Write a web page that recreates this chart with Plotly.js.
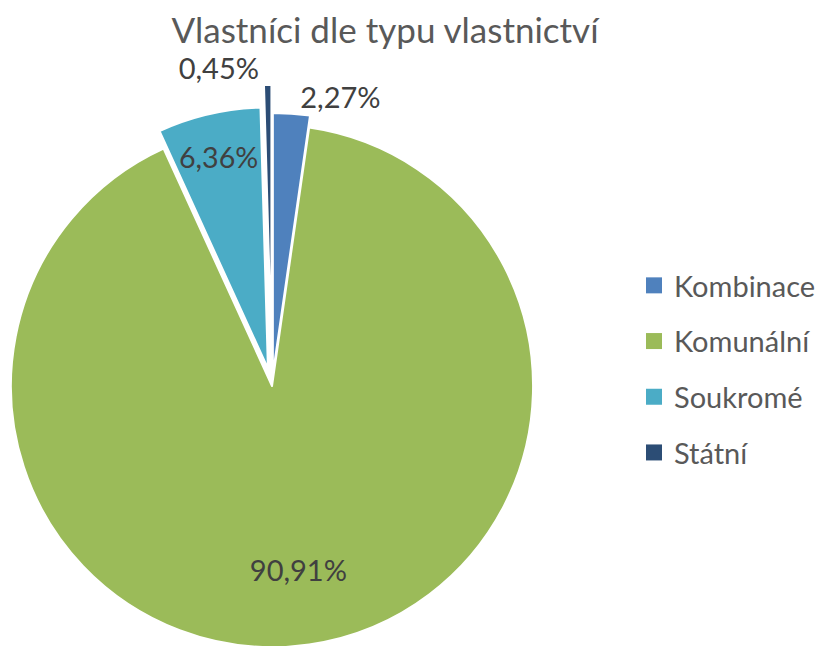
<!DOCTYPE html>
<html>
<head>
<meta charset="utf-8">
<script src="https://cdn.plot.ly/plotly-3.0.1.min.js"></script>
<style>
html,body{margin:0;padding:0;overflow:hidden;background:#fff;width:822px;height:646px;}
#chart{position:absolute;left:-40px;top:0;}
</style>
</head>
<body>
<div id="chart"></div>
<script>
// Data
var categories = ['Kombinace', 'Komunální', 'Soukromé', 'Státní'];
var values = [5, 200, 14, 1];
var colors = ['#4F81BD', '#9BBB59', '#4BACC6', '#2C4D75'];
var pulls = [0.046, 0, 0.069, 0.153];
var labelPositions = ['outside', 'inside', 'inside', 'outside'];
var chartTitle = 'Vlastníci dle typu vlastnictví';

var W = 900, H = 740;
var FONT = 'Lato, "Open Sans", sans-serif';
var PCT = '%{percent:.2%}';
var domain = {x: [11 / W, 613 / W], y: [1 - 687 / H, 1 - 85 / H]};
var labelFont = {family: FONT, size: 29, color: '#404040'};

// the big slice's label sits further out, as in the original; drawn by a transparent ring over the pie
var mainTemplates = categories.map(function (c, i) { return i === 1 ? '' : PCT; });
var ringTemplates = categories.map(function (c, i) { return i === 1 ? PCT : ''; });

var traces = [{
  type: 'pie',
  labels: categories,
  values: values,
  sort: false,
  direction: 'clockwise',
  rotation: 0,
  pull: pulls,
  marker: {colors: colors, line: {color: '#ffffff', width: 2}},
  texttemplate: mainTemplates,
  textposition: labelPositions,
  insidetextorientation: 'horizontal',
  textfont: labelFont,
  showlegend: false,
  hoverinfo: 'label+percent',
  domain: domain
}, {
  type: 'pie',
  labels: categories,
  values: values,
  sort: false,
  direction: 'clockwise',
  rotation: 0,
  pull: pulls,
  hole: 0.42,
  marker: {colors: categories.map(function () { return 'rgba(0,0,0,0)'; }), line: {width: 0}},
  texttemplate: ringTemplates,
  textposition: 'inside',
  insidetextorientation: 'horizontal',
  textfont: labelFont,
  showlegend: false,
  hoverinfo: 'skip',
  domain: domain
}];

// legend entries built from the categories
categories.forEach(function (c, i) {
  traces.push({
    type: 'scatter',
    mode: 'markers',
    x: [null], y: [null],
    name: c,
    legendgroup: 'g' + i,
    marker: {symbol: 'square', size: 16, color: colors[i]},
    hoverinfo: 'skip'
  });
});

var layout = {
  width: W,
  height: H,
  margin: {l: 0, r: 0, t: 0, b: 0},
  paper_bgcolor: '#ffffff',
  plot_bgcolor: '#ffffff',
  separators: ', ',
  font: {family: FONT, color: '#595959'},
  title: {
    text: chartTitle,
    font: {family: FONT, size: 35, color: '#595959'},
    x: 425 / W, xanchor: 'center', xref: 'container',
    y: 1 - 30.75 / H, yanchor: 'middle', yref: 'container'
  },
  xaxis: {visible: false},
  yaxis: {visible: false},
  showlegend: true,
  legend: {
    x: 674 / W, xanchor: 'left',
    y: 1 - 260 / H, yanchor: 'top',
    traceorder: 'grouped',
    tracegroupgap: 15,
    font: {family: FONT, size: 29, color: '#595959'},
    bgcolor: 'rgba(0,0,0,0)',
    borderwidth: 0
  }
};

Plotly.newPlot('chart', traces, layout, {displayModeBar: false, staticPlot: true});
</script>
</body>
</html>
